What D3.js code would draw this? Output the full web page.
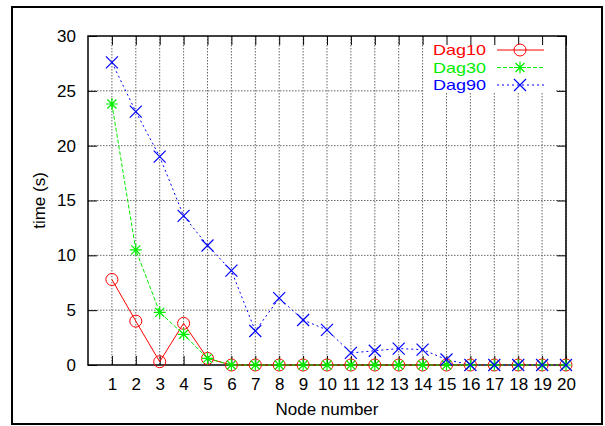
<!DOCTYPE html>
<html><head><meta charset="utf-8">
<script src="https://cdn.jsdelivr.net/npm/d3@7"></script>
<style>body{margin:0;background:#fff}svg{display:block;font-family:"Liberation Sans",Arial,sans-serif}</style>
</head><body><svg id="c" width="605" height="426"></svg>
<script>
const nodes = d3.range(1, 21);
const xTicks = d3.range(1, 21);
const yTicks = [0, 5, 10, 15, 20, 25, 30];
const dag10 = [7.8, 4.0, 0.3, 3.8, 0.6, 0, 0, 0, 0, 0, 0, 0, 0, 0, 0, 0, 0, 0, 0, 0];
const dag30 = [23.8, 10.5, 4.8, 2.8, 0.6, 0, 0, 0, 0, 0, 0, 0, 0, 0, 0, 0, 0, 0, 0, 0];
const dag90 = [27.6, 23.1, 19.0, 13.6, 10.9, 8.6, 3.1, 6.1, 4.1, 3.2, 1.1, 1.3, 1.5, 1.4, 0.5, 0, 0, 0, 0, 0];
const seriesNames = ["Dag10", "Dag30", "Dag90"];
const seriesColors = ["#ff0000", "#00ee00", "#0000ff"];
const seriesDash = [null, "4,2", "2,3"];
const seriesMarks = ["circle", "star", "cross"];
const seriesData = [dag10, dag30, dag90];

const svg = d3.select("#c");
const L = 88, R = 566, T = 36, B = 365;
const x = d3.scaleLinear().domain([0, 20]).range([L, R]);
const y = d3.scaleLinear().domain([0, 30]).range([B, T]);

svg.append("rect").attr("x", 12).attr("y", 7).attr("width", 590).attr("height", 417)
  .attr("fill", "none").attr("stroke", "#000").attr("stroke-width", 2);

const g = svg.append("g");
g.selectAll(".gx").data(xTicks).join("line")
  .attr("x1", d => x(d)).attr("x2", d => x(d)).attr("y1", T).attr("y2", B)
  .attr("stroke", "#666").attr("stroke-width", 1).attr("stroke-dasharray", "1.5,1.5");
g.selectAll(".gy").data(yTicks.slice(1, -1)).join("line")
  .attr("x1", L).attr("x2", R).attr("y1", d => y(d)).attr("y2", d => y(d))
  .attr("stroke", "#666").attr("stroke-width", 1).attr("stroke-dasharray", "1.5,1.5");

svg.append("rect").attr("x", 424).attr("y", 37).attr("width", 131).attr("height", 56).attr("fill", "#fff");

const axB = d3.axisBottom(x).tickValues(xTicks).tickSize(-9).tickPadding(13).tickFormat(d3.format("d"));
const axT = d3.axisTop(x).tickValues(xTicks).tickSize(-9).tickFormat("");
const axLft = d3.axisLeft(y).tickValues(yTicks).tickSize(-9).tickPadding(12);
const axRt = d3.axisRight(y).tickValues(yTicks).tickSize(-9).tickFormat("");
function style(sel){ sel.select(".domain").remove(); sel.selectAll("line").attr("stroke","#000"); sel.selectAll("text").attr("fill","#000").attr("font-size",17).attr("font-family","Liberation Sans, Arial, sans-serif"); }
svg.append("g").attr("transform", `translate(0,${B})`).call(axB).call(style);
svg.append("g").attr("transform", `translate(0,${T})`).call(axT).call(style);
svg.append("g").attr("transform", `translate(${L},0)`).call(axLft).call(style);
svg.append("g").attr("transform", `translate(${R},0)`).call(axRt).call(style);

svg.append("rect").attr("x", L).attr("y", T).attr("width", R - L).attr("height", B - T)
  .attr("fill", "none").attr("stroke", "#000").attr("stroke-width", 1.5);

svg.append("text").attr("x", 327).attr("y", 415).attr("text-anchor", "middle")
  .attr("font-size", 17).text("Node number");
svg.append("text").attr("transform", `translate(45,${(T + B) / 2}) rotate(-90)`).attr("text-anchor", "middle")
  .attr("font-size", 17).text("time (s)");

function marker(sel, type, color){
  const s = 6;
  if (type === "circle") {
    sel.append("circle").attr("r", 6).attr("fill", "none").attr("stroke", color).attr("stroke-width", 1);
  } else if (type === "star") {
    sel.append("path").attr("d", `M${-s},0H${s}M0,${-s}V${s}M${-s*0.75},${-s*0.75}L${s*0.75},${s*0.75}M${-s*0.75},${s*0.75}L${s*0.75},${-s*0.75}`)
      .attr("stroke", color).attr("stroke-width", 1.2).attr("fill", "none");
  } else {
    sel.append("path").attr("d", `M${-s},${-s}L${s},${s}M${-s},${s}L${s},${-s}`)
      .attr("stroke", color).attr("stroke-width", 1.2).attr("fill", "none");
  }
}

const line = d3.line().x((d, i) => x(nodes[i])).y(d => y(d));
seriesData.forEach((data, k) => {
  svg.append("path").datum(data).attr("d", line).attr("fill", "none")
    .attr("stroke", seriesColors[k]).attr("stroke-width", 1)
    .attr("stroke-dasharray", seriesDash[k]);
});
seriesData.forEach((data, k) => {
  svg.append("g").selectAll("g").data(data).join("g")
    .attr("transform", (d, i) => `translate(${x(nodes[i])},${y(d)})`)
    .each(function(){ marker(d3.select(this), seriesMarks[k], seriesColors[k]); });
});

seriesNames.forEach((name, k) => {
  const ly = 50 + k * 17.5;
  svg.append("text").attr("x", 486).attr("y", ly).attr("dy", "0.36em").attr("text-anchor", "end")
    .attr("font-size", 15).attr("textLength", 53).attr("lengthAdjust", "spacingAndGlyphs")
    .attr("fill", seriesColors[k]).text(name);
  svg.append("line").attr("x1", 497).attr("x2", 544).attr("y1", ly).attr("y2", ly)
    .attr("stroke", seriesColors[k]).attr("stroke-width", 1).attr("stroke-dasharray", seriesDash[k]);
  const m = svg.append("g").attr("transform", `translate(520,${ly})`);
  marker(m, seriesMarks[k], seriesColors[k]);
});
</script></body></html>
